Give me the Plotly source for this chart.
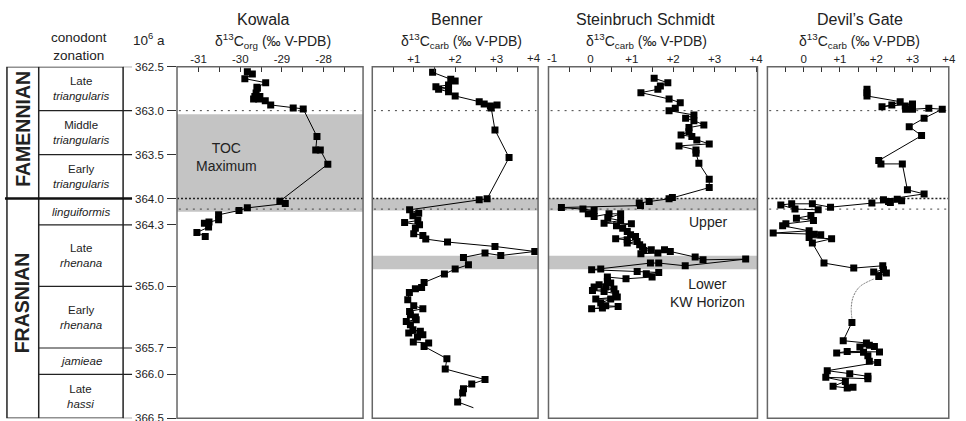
import plotly.graph_objects as go

W, H = 966, 421
FONT = "Liberation Sans, Arial, Helvetica, sans-serif"

# ---------------- data ----------------
# conodont zonation (age, Ma)
zone_bounds = [362.5, 363.0, 363.5, 364.0, 364.3, 365.0, 365.7, 366.0, 366.5]
zone_word = ["Late", "Middle", "Early", "", "Late", "Early", "", "Late"]
zone_species = ["triangularis", "triangularis", "triangularis", "linguiformis",
                "rhenana", "rhenana", "jamieae", "hassi"]
stage_names = ["FAMENNIAN", "FRASNIAN"]
stage_bounds = [362.5, 364.0, 366.5]
age_ticks = [362.5, 363.0, 363.5, 364.0, 364.3, 365.0, 365.7, 366.0, 366.5]

# horizons
dotted_light = [363.0, 364.12]
dotted_dense = [364.0]
toc_max = [363.04, 364.15]
upper_kw = [364.0, 364.135]
lower_kw = [364.65, 364.805]

# Kowala  d13C org
kow_age = [362.557, 362.583, 362.636, 362.682, 362.734, 362.745, 362.80, 362.84, 362.84,
           362.867, 362.867, 362.886, 362.935, 362.969, 362.98, 363.295, 363.447, 363.447,
           363.609, 364.03, 364.057, 364.106, 364.136, 364.185, 364.242, 364.268, 364.28,
           364.325, 364.386, 364.432]
kow_val = [-29.83, -29.71, -29.89, -29.39, -29.60, -29.59, -29.62, -29.65, -29.53,
           -29.68, -29.56, -29.40, -29.27, -28.73, -28.49, -28.16, -28.19, -28.08,
           -27.90, -29.05, -28.92, -29.83, -30.03, -30.52, -30.52, -30.75, -30.86,
           -30.76, -31.04, -30.84]

# Benner  d13C carb
ben_age = [362.564, 362.643, 362.662, 362.708, 362.727, 362.745, 362.757, 362.784, 362.833,
           362.898, 362.924, 362.935, 362.947, 362.97, 363.219, 363.534, 364.003, 364.015,
           364.128, 364.166, 364.197, 364.25, 364.273, 364.299, 364.337, 364.40, 364.42,
           364.461, 364.495, 364.545, 364.602, 364.648, 364.62, 364.67, 364.753, 364.802,
           364.859, 364.955, 365.011, 365.026, 365.068, 365.151, 365.219, 365.253, 365.284,
           365.322, 365.348, 365.378, 365.398, 365.435, 365.492, 365.511, 365.53, 365.549,
           365.575, 365.632, 365.643, 365.682, 365.822, 365.939, 366.06, 366.109, 366.163,
           366.211, 366.314]
ben_val = [1.455, 1.894, 2.0, 1.84, 1.535, 1.84, 1.6, 1.84, 2.0,
           2.58, 2.70, 3.01, 2.85, 2.87, 2.96, 3.30, 2.77, 2.58,
           0.90, 1.12, 0.98, 1.10, 0.78, 1.14, 1.04, 1.0, 1.22,
           1.29, 1.815, 2.96, 3.92, 3.10, 2.72, 2.20, 2.32, 2.0,
           1.74, 1.25, 1.19, 1.04, 0.895, 0.856, 1.0, 1.22, 0.90,
           0.92, 1.04, 1.06, 0.82, 0.92, 0.98, 1.16, 0.88, 1.22,
           1.09, 0.99, 1.36, 1.25, 1.80, 1.76, 2.72, 2.40, 2.20,
           2.18, 2.06]
ben_tail_age = [366.314, 366.38]
ben_tail_val = [2.06, 2.44]

# Steinbruch Schmidt  d13C carb
ss_age = [362.632, 362.682, 362.719, 362.757, 362.795, 362.867, 362.909, 362.973, 363.0,
          363.049, 363.086, 363.114, 363.162, 363.193, 363.239, 363.276, 363.295, 363.333,
          363.378, 363.401, 363.447, 363.484, 363.598, 363.78, 363.875, 363.989, 364.003,
          364.034, 364.052, 364.08, 364.102, 364.12, 364.136, 364.174, 364.205, 364.174,
          364.174, 364.223, 364.25, 364.28, 364.288, 364.31, 364.337, 364.375, 364.413,
          364.432, 364.458, 364.47, 364.489, 364.507, 364.526, 364.552, 364.583, 364.591,
          364.628, 364.62, 364.583, 364.602, 364.666, 364.697, 364.689, 364.765, 364.734,
          364.734, 364.802, 364.81, 364.83, 364.841, 364.856, 364.893, 364.913, 364.893,
          364.943, 364.961, 364.98, 365.007, 365.007, 365.03, 365.045, 365.057, 365.083,
          365.12, 365.143, 365.143, 365.189, 365.22, 365.227, 365.253, 365.246]
ss_val = [1.54, 1.87, 1.69, 1.63, 1.22, 1.90, 2.17, 2.05, 1.90,
          2.50, 2.30, 2.50, 2.74, 2.38, 2.38, 2.19, 2.45, 2.57,
          2.87, 2.14, 2.55, 2.55, 2.62, 2.87, 2.87, 1.98, 1.90,
          1.42, 1.18, 1.21, -0.70, -0.18, 0.09, -0.05, 0.09, 0.45,
          0.73, 0.42, 0.73, 0.33, 0.99, 0.63, 0.78, 0.89, 0.97,
          1.09, 0.61, 0.89, 1.13, 0.89, 1.19, 1.26, 1.47, 1.29,
          1.22, 1.63, 1.79, 1.93, 2.53, 2.72, 3.75, 2.29, 1.65,
          1.45, 0.25, 0.03, 1.13, 1.65, 1.35, 1.49, 0.86, 0.41,
          0.41, 0.49, 0.21, 0.09, 0.37, 0.57, 0.05, 0.33, 0.61,
          0.65, 0.13, 0.49, 0.25, 0.37, 0.67, 0.03, 0.29]

# Devil's Gate  d13C carb (upper and lower segments, with an inferred link)
dg_up_age = [362.757, 362.795, 362.833, 362.898, 362.935, 362.955, 362.924, 362.947, 362.984,
             362.984, 362.973, 362.984, 363.086, 363.182, 363.284, 363.568, 363.606, 363.606,
             363.901, 363.947, 364.015, 364.034, 364.007, 364.026, 364.045, 364.052, 364.098,
             364.06, 364.06, 364.072, 364.12, 364.128, 364.193, 364.223, 364.25, 364.288,
             364.31, 364.367, 364.393, 364.405, 364.413, 364.443, 364.458, 364.507, 364.734,
             364.791, 364.765, 364.81, 364.836, 364.848, 364.886]
dg_up_val = [1.745, 1.745, 1.745, 2.66, 2.43, 2.16, 3.0, 2.80, 2.81,
             3.0, 3.45, 3.82, 3.32, 2.91, 3.25, 2.07, 2.13, 2.72,
             2.86, 3.32, 2.20, 2.34, 2.58, 2.70, 2.39, 1.88, 0.74,
             0.24, -0.33, -0.63, -0.24, 0.40, 0.20, -0.20, 0.27, -0.49,
             -0.58, 0.15, -0.84, 0.29, 0.47, 0.15, 0.77, 0.24, 0.56,
             1.38, 2.18, 2.20, 1.93, 2.28, 2.07]
dg_link_age = [364.916, 365.003, 365.117, 365.242, 365.378]
dg_link_val = [1.928, 1.545, 1.367, 1.312, 1.334]
dg_lo_age = [365.409, 365.617, 365.643, 365.67, 365.689, 365.682, 365.745, 365.739, 365.757,
             365.75, 365.788, 365.852, 365.864, 365.958, 365.992, 366.023, 366.049, 366.034,
             366.08, 366.136, 366.155, 366.148]
dg_lo_val = [1.33, 1.09, 1.73, 1.81, 1.55, 1.95, 2.09, 1.20, 0.91,
             1.65, 1.77, 1.81, 2.04, 0.65, 1.27, 1.77, 1.77, 0.61,
             1.15, 0.81, 1.20, 1.36]

# axis ticks (labelled majors + unlabelled minors); edge labels drawn separately
kow_tickvals = [-31, -30, -29, -28]
kow_ticktext = ["-31", "-30", "-29", "-28"]
kow_minor = [-30.5, -29.5, -28.5, -27.5]
ben_tickvals = [1, 2, 3, 4]
ben_ticktext = ["+1", "+2", "+3", ""]
ben_minor = [0.5, 1.5, 2.5, 3.5]
ss_tickvals = [-1, 0, 1, 2, 3, 4]
ss_ticktext = ["", "0", "+1", "+2", "+3", "+4"]
ss_minor = [-0.5, 0.5, 1.5, 2.5, 3.5]
dg_tickvals = [0, 1, 2, 3, 4]
dg_ticktext = ["0", "+1", "+2", "+3", "+4"]
dg_minor = [-0.5, 0.5, 1.5, 2.5, 3.5]
edge_labels = [("+4", 537.5), ("-1", 556.5)]   # (text, x pixel centre)

site_names = ["Kowala", "Benner", "Steinbruch Schmidt", "Devil\u2019s Gate"]
site_subs = ["org", "carb", "carb", "carb"]

# ---------------- layout helpers ----------------
def px(x):
    return x / W

def py(y):
    return 1 - y / H

panels = [
    dict(ax="x2", dom=(178.3, 365.7), rng=[-31.517, -27.055], tv=kow_tickvals, tt=kow_ticktext,
         mv=kow_minor, tx=265, atx=275),
    dict(ax="x3", dom=(375.0, 542.0), rng=[0, 4.0], tv=ben_tickvals, tt=ben_ticktext,
         mv=ben_minor, tx=460, atx=465),
    dict(ax="x4", dom=(552.5, 763.0), rng=[-1.012, 4.035], tv=ss_tickvals, tt=ss_ticktext,
         mv=ss_minor, tx=650, atx=651),
    dict(ax="x5", dom=(773.0, 955.7), rng=[-1.0, 4.0], tv=dg_tickvals, tt=dg_ticktext,
         mv=dg_minor, tx=866, atx=866),
]

fig = go.Figure()

marker = dict(symbol="square", size=7, color="black", line=dict(width=0))
line = dict(color="black", width=1)

def add_series(ax, vals, ages, mode="lines+markers"):
    fig.add_trace(go.Scatter(x=vals, y=ages, xaxis=ax, yaxis="y", mode=mode,
                             marker=marker, line=line,
                             hoverinfo="skip", showlegend=False))

add_series("x2", kow_val, kow_age)
add_series("x3", ben_val, ben_age)
add_series("x3", ben_tail_val, ben_tail_age, mode="lines")
add_series("x4", ss_val, ss_age)
add_series("x5", dg_up_val, dg_up_age)
fig.add_trace(go.Scatter(x=dg_link_val, y=dg_link_age, xaxis="x5", yaxis="y", mode="lines",
                         line=dict(color="#777", width=1, dash="2px,1px", shape="spline"),
                         hoverinfo="skip", showlegend=False))
add_series("x5", dg_lo_val, dg_lo_age)

shapes = []
annotations = []

# panels: bands, dotted lines, borders
bands = {"x2": [toc_max], "x3": [upper_kw, lower_kw], "x4": [upper_kw, lower_kw], "x5": []}
for p in panels:
    ax = p["ax"]
    for b in bands[ax]:
        shapes.append(dict(type="rect", xref=f"{ax} domain", yref="y", x0=0, x1=1,
                           y0=b[0], y1=b[1], fillcolor="rgb(196,196,196)",
                           line=dict(width=0), layer="below"))
    for a in dotted_light:
        shapes.append(dict(type="line", xref=f"{ax} domain", yref="y", x0=0.01, x1=0.99,
                           y0=a, y1=a, line=dict(color="#444", width=1, dash="2px,5px"),
                           layer="below"))
    for a in dotted_dense:
        shapes.append(dict(type="line", xref=f"{ax} domain", yref="y", x0=0, x1=1,
                           y0=a, y1=a, line=dict(color="#222", width=1.6, dash="2px,2px"),
                           layer="below"))
    shapes.append(dict(type="rect", xref=f"{ax} domain", yref="y domain", x0=0, x1=1,
                       y0=0, y1=1, line=dict(color="#666", width=1.5)))

# zonation column
col_l, col_m, col_r, tick_r = px(7), px(39), px(124), px(133)
shapes.append(dict(type="rect", xref="paper", yref="y", x0=col_l, x1=col_r,
                   y0=zone_bounds[0], y1=zone_bounds[-1], line=dict(color="#222", width=1.5)))
shapes.append(dict(type="line", xref="paper", yref="y", x0=col_m, x1=col_m,
                   y0=zone_bounds[0], y1=zone_bounds[-1], line=dict(color="#222", width=1.5)))
for b in zone_bounds:
    if b in stage_bounds[1:-1]:
        shapes.append(dict(type="line", xref="paper", yref="y", x0=px(5), x1=tick_r,
                           y0=b, y1=b, line=dict(color="#111", width=2.5)))
    elif b in (zone_bounds[0], zone_bounds[-1]):
        shapes.append(dict(type="line", xref="paper", yref="y", x0=col_r, x1=tick_r,
                           y0=b, y1=b, line=dict(color="#333", width=1)))
    else:
        shapes.append(dict(type="line", xref="paper", yref="y", x0=col_m, x1=tick_r,
                           y0=b, y1=b, line=dict(color="#222", width=1.2)))

for i in range(len(zone_species)):
    mid = (zone_bounds[i] + zone_bounds[i + 1]) / 2
    txt = (zone_word[i] + "<br>" if zone_word[i] else "") + f"<i>{zone_species[i]}</i>"
    annotations.append(dict(text=txt, xref="paper", yref="y", x=px(81.5), y=mid,
                            showarrow=False, xanchor="center", yanchor="middle",
                            font=dict(family=FONT, size=11.5, color="#222")))

# age labels, centred between the two short ticks
for a in age_ticks:
    annotations.append(dict(text=f"{a:.1f}", xref="paper", yref="y", x=px(151), y=a,
                            showarrow=False, xanchor="center", yanchor="middle",
                            font=dict(family=FONT, size=11.5, color="#222")))

# edge tick labels (Benner +4, Steinbruch -1)
for t, xc in edge_labels:
    annotations.append(dict(text=t, xref="paper", yref="paper", x=px(xc), y=py(57.5),
                            showarrow=False, xanchor="center", yanchor="middle",
                            font=dict(family=FONT, size=11.5, color="#222")))

stage_y = [128.5, 303]
for name, yc in zip(stage_names, stage_y):
    annotations.append(dict(text=f"<b>{name}</b>", xref="paper", yref="paper", x=px(22.5),
                            y=py(yc), textangle=-90, showarrow=False,
                            xanchor="center", yanchor="middle",
                            font=dict(family=FONT, size=19.5, color="#222")))

# header texts
annotations.append(dict(text="conodont<br>zonation", xref="paper", yref="paper", x=px(80),
                        y=py(46), showarrow=False, xanchor="center", yanchor="middle",
                        font=dict(family=FONT, size=13.5, color="#222")))
annotations.append(dict(text="10<sup>6</sup> a", xref="paper", yref="paper", x=px(150),
                        y=py(39), showarrow=False, xanchor="center", yanchor="middle",
                        font=dict(family=FONT, size=13.5, color="#222")))
for p, name, sub in zip(panels, site_names, site_subs):
    annotations.append(dict(text=name, xref="paper", yref="paper", x=px(p["tx"]), y=py(19),
                            showarrow=False, xanchor="center", yanchor="middle",
                            font=dict(family=FONT, size=16, color="#222")))
    annotations.append(dict(text=f"\u03b4<sup>13</sup>C<sub>{sub}</sub> (\u2030 V-PDB)",
                            xref="paper", yref="paper", x=px(p["atx"]), y=py(41),
                            showarrow=False, xanchor="center", yanchor="middle",
                            font=dict(family=FONT, size=14, color="#222")))

# in-panel labels
annotations.append(dict(text="TOC<br>Maximum", xref="paper", yref="paper", x=px(228), y=py(157),
                        showarrow=False, xanchor="center", yanchor="middle",
                        font=dict(family=FONT, size=14, color="#222")))
annotations.append(dict(text="Upper", xref="paper", yref="paper", x=px(713), y=py(222),
                        showarrow=False, xanchor="center", yanchor="middle",
                        font=dict(family=FONT, size=14, color="#222")))
annotations.append(dict(text="Lower<br>KW Horizon", xref="paper", yref="paper", x=px(713),
                        y=py(293), showarrow=False, xanchor="center", yanchor="middle",
                        font=dict(family=FONT, size=14, color="#222")))

layout = dict(
    width=W, height=H, margin=dict(l=0, r=0, t=0, b=0),
    paper_bgcolor="white", plot_bgcolor="white",
    showlegend=False, shapes=shapes, annotations=annotations,
    font=dict(family=FONT, color="#222"),
    xaxis=dict(visible=False, domain=[0, 0.005]),
    yaxis=dict(domain=[py(418.3), py(66.7)], range=[366.5, 362.5], autorange=False,
               anchor="x2", side="left", tickvals=age_ticks, showticklabels=False,
               ticks="outside", ticklen=9, tickcolor="#333", tickwidth=1,
               showgrid=False, zeroline=False, showline=False),
)
for p in panels:
    key = "xaxis" + p["ax"][1:]
    layout[key] = dict(domain=[px(p["dom"][0]), px(p["dom"][1])], range=p["rng"],
                       autorange=False, anchor="y", side="top", tickmode="array",
                       tickvals=p["tv"], ticktext=p["tt"], ticks="inside", ticklen=5,
                       tickcolor="#333", tickwidth=1, showgrid=False, zeroline=False,
                       showline=False, tickfont=dict(family=FONT, size=11.5, color="#222"),
                       minor=dict(tickmode="array", tickvals=p["mv"], ticks="inside",
                                  ticklen=5, tickcolor="#333", tickwidth=1, showgrid=False))

fig.update_layout(**layout)
fig.write_html("out.html", config={"displayModeBar": False},
               post_script="document.body.style.margin='0px';document.body.style.overflow='hidden';")
